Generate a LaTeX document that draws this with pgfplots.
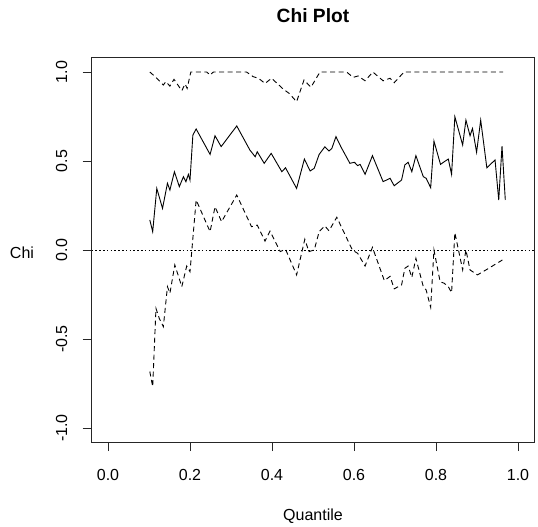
\documentclass[border=0pt]{standalone}
\usepackage{pgfplots}
\pgfplotsset{compat=1.18}
\usepackage{fontspec}
\setmainfont{Liberation Sans}

% chi estimate and its pointwise interval bounds, by quantile
\pgfplotstableread{
q chi
0.102 0.169
0.109 0.103
0.119 0.346
0.133 0.234
0.145 0.375
0.151 0.337
0.162 0.440
0.174 0.356
0.184 0.412
0.190 0.384
0.196 0.425
0.200 0.393
0.207 0.646
0.215 0.680
0.249 0.537
0.261 0.642
0.276 0.581
0.314 0.697
0.346 0.562
0.359 0.524
0.364 0.552
0.381 0.487
0.398 0.543
0.424 0.440
0.433 0.462
0.460 0.346
0.479 0.511
0.493 0.444
0.503 0.459
0.515 0.537
0.529 0.580
0.539 0.556
0.546 0.571
0.556 0.637
0.568 0.580
0.590 0.487
0.601 0.493
0.609 0.474
0.615 0.481
0.627 0.425
0.645 0.530
0.671 0.384
0.688 0.403
0.698 0.361
0.716 0.393
0.724 0.478
0.732 0.493
0.741 0.440
0.751 0.530
0.769 0.412
0.776 0.403
0.787 0.350
0.795 0.612
0.811 0.481
0.820 0.496
0.830 0.511
0.838 0.425
0.846 0.749
0.865 0.590
0.873 0.730
0.883 0.642
0.889 0.683
0.899 0.549
0.909 0.730
0.924 0.462
0.944 0.506
0.953 0.281
0.961 0.584
0.969 0.281
}\chitab

\pgfplotstableread{
q up
0.102 1.000
0.115 0.974
0.135 0.927
0.141 0.946
0.151 0.921
0.161 0.959
0.180 0.895
0.188 0.933
0.193 0.908
0.202 1.000
0.241 1.000
0.249 0.983
0.257 1.000
0.338 1.000
0.354 0.974
0.367 0.965
0.383 0.936
0.399 0.965
0.428 0.903
0.442 0.880
0.460 0.833
0.478 0.955
0.495 0.915
0.517 1.000
0.582 1.000
0.598 0.970
0.610 0.978
0.627 0.951
0.646 1.000
0.671 0.951
0.688 0.965
0.698 0.940
0.722 1.000
0.964 1.000
}\uptab

\pgfplotstableread{
q lo
0.102 -0.683
0.109 -0.768
0.117 -0.328
0.125 -0.384
0.135 -0.431
0.145 -0.206
0.151 -0.243
0.163 -0.084
0.180 -0.206
0.192 -0.090
0.200 -0.122
0.215 0.281
0.249 0.103
0.261 0.243
0.277 0.159
0.314 0.309
0.350 0.131
0.364 0.140
0.383 0.050
0.395 0.106
0.420 -0.009
0.433 0.004
0.460 -0.140
0.480 0.060
0.490 -0.009
0.503 0.000
0.515 0.103
0.529 0.135
0.539 0.108
0.558 0.184
0.596 0.000
0.609 -0.019
0.627 -0.090
0.645 0.015
0.674 -0.172
0.688 -0.148
0.698 -0.218
0.716 -0.197
0.724 -0.103
0.732 -0.090
0.741 -0.154
0.751 -0.047
0.769 -0.206
0.776 -0.225
0.787 -0.322
0.795 0.000
0.810 -0.178
0.820 -0.187
0.830 -0.206
0.838 -0.240
0.846 0.097
0.865 -0.112
0.873 0.000
0.883 -0.112
0.901 -0.140
0.924 -0.109
0.962 -0.056
}\lotab

\begin{document}
\begin{tikzpicture}
\useasboundingbox (-91.6bp,-84.8bp) rectangle (446.4bp,442.2bp);
\begin{axis}[
  at={(0,0)}, anchor=south west,
  scale only axis, width=442.8bp, height=384.4bp,
  xmin=-0.04, xmax=1.04, ymin=-1.08, ymax=1.08,
  xtick={0,0.2,0.4,0.6,0.8,1},
  xticklabels={0.0,0.2,0.4,0.6,0.8,1.0},
  ytick={-1,-0.5,0,0.5,1},
  yticklabels={-1.0,-0.5,0.0,0.5,1.0},
  tick pos=left, tick align=outside,
  major tick length=9bp,
  axis line style={line width=0.8bp, black!85},
  every tick/.style={line width=0.8bp, black!85},
  font=\fontsize{16bp}{19bp}\selectfont,
  xticklabel style={anchor=center, yshift=-24bp},
  yticklabel style={xshift=-21bp, rotate=90, anchor=center},
  xlabel={Quantile},
  xlabel style={at={(axis description cs:0.5,0)}, anchor=center, yshift=-74.5bp},
  ylabel={Chi},
  ylabel style={at={(axis description cs:0,0.5)}, rotate=-90, anchor=center, xshift=-69.6bp, yshift=-3bp},
  title={Chi Plot},
  title style={at={(axis description cs:0.5,1)}, anchor=center, yshift=36bp,
    font=\bfseries\fontsize{19.2bp}{23bp}\selectfont},
  clip=false,
]
\addplot[black, line width=0.6bp, dash pattern=on 1.6bp off 2.2bp] coordinates {(-0.04,0) (1.04,0)};
\addplot[black, line width=0.9bp, dash pattern=on 5bp off 3.5bp] table[x=q, y=up] {\uptab};
\addplot[black, line width=0.9bp] table[x=q, y=chi] {\chitab};
\addplot[black, line width=0.9bp, dash pattern=on 5bp off 3.5bp] table[x=q, y=lo] {\lotab};
\end{axis}
\end{tikzpicture}
\end{document}
